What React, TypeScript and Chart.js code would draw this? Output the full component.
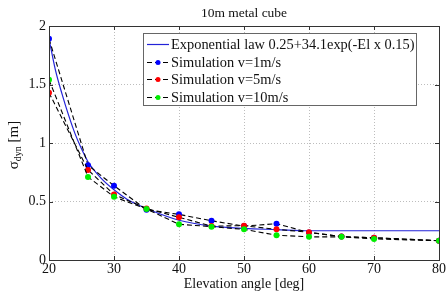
import React, { useEffect, useRef } from 'react';
import { Chart, registerables } from 'chart.js';
Chart.register(...registerables);

const titleText = '10m metal cube';
const xTitle = 'Elevation angle [deg]';
const angles = [20, 26, 30, 35, 40, 45, 50, 55, 60, 65, 70, 80];
const sim1 = [1.89, 0.81, 0.635, 0.43, 0.39, 0.335, 0.29, 0.31, 0.235, 0.2, 0.19, 0.165];
const sim5 = [1.43, 0.77, 0.56, 0.44, 0.365, 0.29, 0.293, 0.262, 0.237, 0.2, 0.19, 0.165];
const sim10 = [1.54, 0.71, 0.54, 0.436, 0.305, 0.285, 0.262, 0.212, 0.198, 0.198, 0.18, 0.165];
const expAngles = [20, 21, 22, 23, 24, 25, 26, 28, 30, 32, 35, 40, 45, 50, 55, 60, 70, 80];
const expValues = [1.89, 1.62, 1.42, 1.24, 1.08, 0.95, 0.84, 0.7, 0.6, 0.52, 0.44, 0.34, 0.29, 0.27, 0.26, 0.25, 0.25, 0.25];
const legendLabels = [
  'Exponential law 0.25+34.1exp(-El x 0.15)',
  'Simulation v=1m/s',
  'Simulation v=5m/s',
  'Simulation v=10m/s',
];
const markerColors = ['#0000ff', '#ff0000', '#00ee00'];
const expColor = '#2323d8';
const FONT = '"Liberation Serif", "DejaVu Serif", serif';

function pts(xs: number[], ys: number[]) {
  return xs.map((x, i) => ({ x, y: ys[i] }));
}

const decorPlugin = {
  id: 'decor',
  afterDraw(chart: any) {
    const { ctx, chartArea: a, scales } = chart;
    ctx.save();
    // frame
    ctx.strokeStyle = '#333';
    ctx.lineWidth = 1;
    ctx.setLineDash([]);
    ctx.strokeRect(Math.round(a.left) + 0.5, Math.round(a.top) + 0.5, Math.round(a.right - a.left), Math.round(a.bottom - a.top));
    // inner ticks
    const xs = scales.x;
    const ys = scales.y;
    ctx.beginPath();
    xs.ticks.forEach((t: any) => {
      const px = Math.round(xs.getPixelForValue(t.value)) + 0.5;
      ctx.moveTo(px, a.bottom); ctx.lineTo(px, a.bottom - 4);
      ctx.moveTo(px, a.top); ctx.lineTo(px, a.top + 4);
    });
    ys.ticks.forEach((t: any) => {
      const py = Math.round(ys.getPixelForValue(t.value)) + 0.5;
      ctx.moveTo(a.left, py); ctx.lineTo(a.left + 4, py);
      ctx.moveTo(a.right, py); ctx.lineTo(a.right - 4, py);
    });
    ctx.stroke();

    // title
    ctx.fillStyle = '#111';
    ctx.font = `13.5px ${FONT}`;
    ctx.textAlign = 'center';
    ctx.textBaseline = 'middle';
    ctx.fillText(titleText, (a.left + a.right) / 2, 13);

    // y axis title: sigma_dyn [m]
    ctx.save();
    ctx.translate(14, 145);
    ctx.rotate(-Math.PI / 2);
    ctx.textAlign = 'left';
    ctx.textBaseline = 'middle';
    ctx.font = `15px ${FONT}`;
    const w1 = ctx.measureText('σ').width;
    const w3 = ctx.measureText(' [m]').width;
    ctx.font = `10px ${FONT}`;
    const w2 = ctx.measureText('dyn').width;
    const total = w1 + w2 + w3;
    let x0 = -total / 2;
    ctx.font = `15px ${FONT}`;
    ctx.fillText('σ', x0, 0);
    x0 += w1;
    ctx.font = `10px ${FONT}`;
    ctx.fillText('dyn', x0, 4);
    x0 += w2;
    ctx.font = `15px ${FONT}`;
    ctx.fillText(' [m]', x0, 0);
    ctx.restore();

    // legend
    const bx = 143, by = 33, bw = 273, bh = 72;
    ctx.fillStyle = '#fff';
    ctx.fillRect(bx, by, bw, bh);
    ctx.strokeStyle = '#666';
    ctx.lineWidth = 1;
    ctx.strokeRect(bx + 0.5, by + 0.5, bw, bh);
    const rows = [44, 62, 79, 97];
    ctx.font = `14.4px ${FONT}`;
    ctx.textAlign = 'left';
    ctx.textBaseline = 'middle';
    legendLabels.forEach((lab, i) => {
      const y = rows[i];
      ctx.beginPath();
      if (i === 0) {
        ctx.setLineDash([]);
        ctx.strokeStyle = expColor;
        ctx.lineWidth = 1.2;
      } else {
        ctx.setLineDash([5, 3]);
        ctx.strokeStyle = '#000';
        ctx.lineWidth = 1;
      }
      ctx.moveTo(147, y + 0.5);
      ctx.lineTo(169, y + 0.5);
      ctx.stroke();
      ctx.setLineDash([]);
      if (i > 0) {
        ctx.fillStyle = markerColors[i - 1];
        ctx.beginPath();
        ctx.arc(158, y + 0.5, 2.5, 0, Math.PI * 2);
        ctx.fill();
      }
      ctx.fillStyle = '#111';
      ctx.fillText(lab, 171, y + 1);
    });
    ctx.restore();
  },
};

export default function App() {
  const ref = useRef<HTMLCanvasElement | null>(null);
  useEffect(() => {
    const simSet = (label: string, ys: number[], color: string) => ({
      label,
      data: pts(angles, ys),
      borderColor: '#000',
      borderWidth: 1.1,
      borderDash: [5, 3],
      pointRadius: 3,
      pointBackgroundColor: color,
      pointBorderColor: color,
      pointBorderWidth: 0,
      tension: 0,
    });
    const chart = new Chart(ref.current as HTMLCanvasElement, {
      type: 'line',
      data: {
        datasets: [
          simSet(legendLabels[3], sim10, markerColors[2]),
          simSet(legendLabels[2], sim5, markerColors[1]),
          simSet(legendLabels[1], sim1, markerColors[0]),
          {
            label: legendLabels[0],
            data: pts(expAngles, expValues),
            borderColor: expColor,
            borderWidth: 1.2,
            pointRadius: 0,
            cubicInterpolationMode: 'monotone',
          } as any,
        ],
      },
      options: {
        responsive: false,
        animation: false,
        layout: { padding: { top: 26, right: 7, left: 0, bottom: 0 } },
        plugins: { legend: { display: false }, tooltip: { enabled: false }, title: { display: false } },
        scales: {
          x: {
            type: 'linear',
            min: 20,
            max: 80,
            afterFit: (s: any) => { s.height = 34; },
            ticks: { stepSize: 10, color: '#111', font: { family: FONT, size: 14 }, padding: 1, maxRotation: 0 },
            grid: { color: '#bdbdbd', drawTicks: false, lineWidth: 1 },
            border: { display: false, dash: [1, 2] },
            title: { display: true, text: xTitle, color: '#111', font: { family: FONT, size: 14 }, padding: { top: 0, bottom: 1 } },
          },
          y: {
            type: 'linear',
            min: 0,
            max: 2,
            afterFit: (s: any) => { s.width = 49; },
            ticks: { stepSize: 0.5, color: '#111', font: { family: FONT, size: 14 }, padding: 3, callback: (v: any) => String(v) },
            grid: { color: '#bdbdbd', drawTicks: false, lineWidth: 1 },
            border: { display: false, dash: [1, 2] },
          },
        },
      },
      plugins: [decorPlugin],
    });
    return () => chart.destroy();
  }, []);
  return (
    <div style={{ position: 'fixed', left: 0, top: 0, width: 447, height: 294, background: '#fff' }}>
      <canvas ref={ref} width={447} height={294} style={{ display: 'block' }} />
    </div>
  );
}
